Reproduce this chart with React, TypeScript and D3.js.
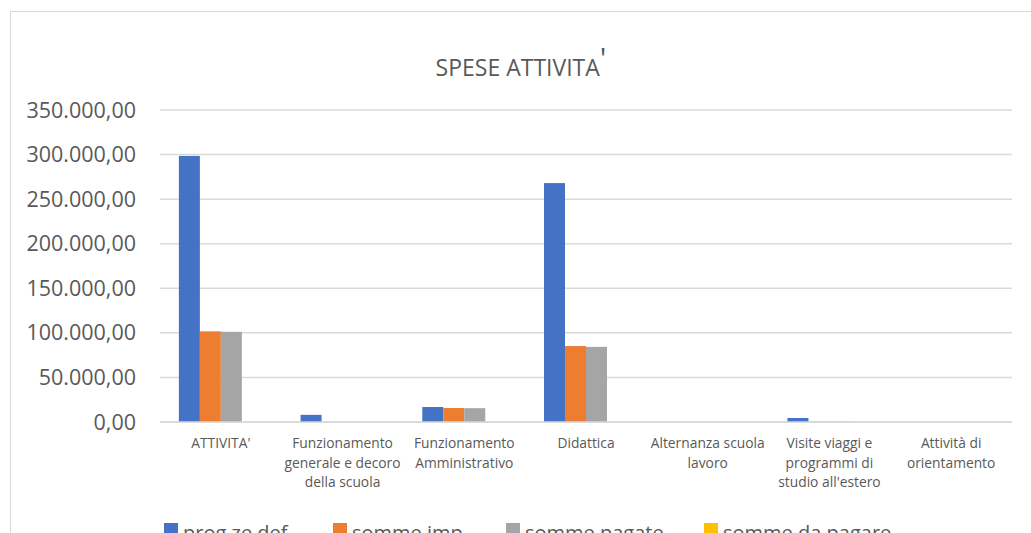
import * as d3 from 'd3';

const categories = [
  "ATTIVITA'",
  'Funzionamento\ngenerale e decoro\ndella scuola',
  'Funzionamento\nAmministrativo',
  'Didattica',
  'Alternanza scuola\nlavoro',
  "Visite viaggi e\nprogrammi di\nstudio all'estero",
  'Attività di\norientamento',
];
const seriesNames = ['prog.ze def.', 'somme imp.', 'somme pagate', 'somme da pagare'];
const progDef = [298500, 8000, 16800, 268000, 0, 4500, 0];
const sommeImp = [101700, 0, 15700, 85200, 0, 300, 0];
const sommePagate = [101200, 0, 15500, 84300, 0, 300, 0];
const sommeDaPagare = [0, 0, 0, 0, 0, 0, 0];
const yTicks = [0, 50000, 100000, 150000, 200000, 250000, 300000, 350000];
const colors = ['#4472C4', '#ED7D31', '#A5A5A5', '#FFC000'];

const W = 1031;
const H = 533;
const font = '"Open Sans", sans-serif';

export default function App() {
  const values = [progDef, sommeImp, sommePagate, sommeDaPagare];
  const locale = d3.formatLocale({ decimal: ',', thousands: '.', grouping: [3], currency: ['', ' €'] });
  const fmt = locale.format(',.2f');

  const x = d3.scaleBand().domain(categories).range([160, 1012]).paddingInner(0.31).paddingOuter(0.155);
  const xs = d3.scaleBand().domain(seriesNames).range([0, x.bandwidth()]);
  const y = d3.scaleLinear().domain([0, 350000]).range([422, 110]);

  const legendX = [164, 333, 506, 704];

  return (
    <div style={{ position: 'absolute', left: 0, top: 0 }}>
      <svg width={W} height={H} style={{ display: 'block', background: '#fff' }}>
        <rect x={10.5} y={11.5} width={1040} height={540} fill="#fff" stroke="#d9d9d9" />
        <text x={521} y={76} textAnchor="middle" fontFamily={font} fontSize={23} fill="#595959">
          SPESE ATTIVITA<tspan fontSize={30} dy={-7}>'</tspan>
        </text>

        {yTicks.map((t) => (
          <g key={t}>
            <line x1={160} x2={1012} y1={y(t)} y2={y(t)} stroke="#d9d9d9" strokeWidth={1.5} />
            <text x={136} y={y(t)} dy="0.35em" textAnchor="end" fontFamily={font} fontSize={21.5} fill="#595959">
              {fmt(t)}
            </text>
          </g>
        ))}

        {categories.map((c, i) => (
          <g key={c}>
            {seriesNames.map((s, j) => (
              <rect
                key={s}
                x={(x(c) as number) + (xs(s) as number)}
                y={y(values[j][i])}
                width={xs.bandwidth()}
                height={y(0) - y(values[j][i])}
                fill={colors[j]}
              />
            ))}
            {c.split('\n').map((line, k) => (
              <text
                key={k}
                x={(x(c) as number) + x.bandwidth() / 2}
                y={448 + k * 19.5}
                textAnchor="middle"
                fontFamily={font}
                fontSize={13.8}
                fill="#595959"
              >
                {line}
              </text>
            ))}
          </g>
        ))}
        <line x1={160} x2={1012} y1={y(0)} y2={y(0)} stroke="#d9d9d9" strokeWidth={1.5} />

        {seriesNames.map((s, j) => (
          <g key={s}>
            <rect x={legendX[j]} y={523} width={14} height={14} fill={colors[j]} />
            <text x={legendX[j] + 19} y={540} fontFamily={font} fontSize={20} fill="#595959">
              {s}
            </text>
          </g>
        ))}
      </svg>
    </div>
  );
}
